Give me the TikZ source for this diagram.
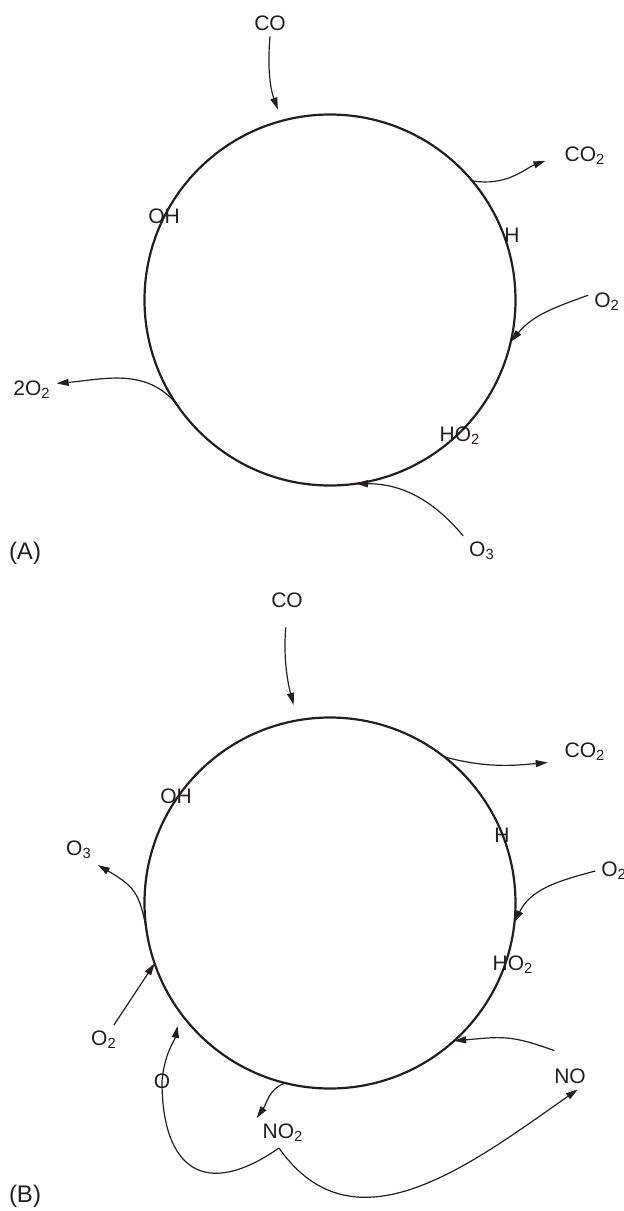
\documentclass[tikz,border=0pt]{standalone}
\usepackage{fontspec}
\setmainfont{Liberation Sans}
\usepackage{xcolor}
\usepackage{tikz}
\usetikzlibrary{arrows.meta}
\definecolor{CY_INK}{HTML}{231F20}
\tikzset{
  cyc/.style={
    circle, draw=CY_INK, line width=1.1pt,
    minimum size=185.5pt, inner sep=0pt, outer sep=0pt},
  spec/.style={
    inner sep=3pt, outer sep=0pt,
    text=CY_INK, font=\fontsize{10.5}{12}\selectfont},
  panel/.style={
    inner sep=3pt, outer sep=0pt,
    text=CY_INK, font=\fontsize{12}{14}\selectfont},
  arr/.style={-{Triangle[length=6pt,width=3.5pt]}, line width=0.6pt, color=CY_INK},
}
\newcommand{\sbs}[1]{\textsubscript{#1}}

\begin{document}
\begin{tikzpicture}[x=0.5pt, y=-0.5pt]

  \useasboundingbox (0,0) rectangle (624,1211);

  \node[cyc] (cycA) at (330,300) {};
  \node[spec] (ohA) at (164,216) {OH};
  \node[spec] (hA) at (512,235) {H};
  \node[spec] (ho2A) at (460,436) {HO\sbs{2}};
  \node[spec] (coA) at (270,23) {CO};
  \node[spec] (co2A) at (585,156) {CO\sbs{2}};
  \node[spec] (o2A) at (607,302) {O\sbs{2}};
  \node[spec] (o3A) at (482,551) {O\sbs{3}};
  \node[spec] (o22A) at (32,390) {2O\sbs{2}};
  \node[panel] (labA) at (25,553) {(A)};

  \draw[arr, shorten >=6pt] (coA.south) to[out=-95,in=110] (cycA.105);
  \draw[arr, shorten >=7pt] (cycA.40) to[out=-10,in=200] (co2A.west);
  \draw[arr] (o2A.160) to[out=200,in=50] (cycA.-13);
  \draw[arr] (o3A.north west) to[out=130,in=0] (cycA.-82);
  \draw[arr] (cycA.214) to[out=130,in=5] (o22A.15);

  \node[cyc] (cycB) at (330,903) {};
  \node[spec] (ohB) at (176,796) {OH};
  \node[spec] (hB) at (502,835) {H};
  \node[spec] (ho2B) at (513,965) {HO\sbs{2}};
  \node[spec] (coB) at (287,600) {CO};
  \node[spec] (co2B) at (585,752) {CO\sbs{2}};
  \node[spec] (o2rB) at (614,871) {O\sbs{2}};
  \node[spec] (noB) at (570,1076) {NO};
  \node[spec] (no2B) at (283,1133) {NO\sbs{2}};
  \node[spec] (oB) at (162,1081) {O};
  \node[spec] (o2lB) at (104,1040) {O\sbs{2}};
  \node[spec] (o3B) at (79,850) {O\sbs{3}};
  \node[panel] (labB) at (25,1196) {(B)};

  \draw[arr, shorten <=7pt, shorten >=8pt] (coB.south) to[out=-95,in=105] (cycB.100);
  \draw[arr, shorten >=5.5pt] (cycB.52) to[out=-15,in=185] (co2B.200);
  \draw[arr] (o2rB.west) to[out=195,in=64] (cycB.-6);
  \draw[arr] ([shift={(3pt,6pt)}]noB.north west) to[out=160,in=5,looseness=1.2] (cycB.-48);
  \draw[arr] (cycB.-104) to[out=200,in=55] (no2B.north west);
  \draw[arr, shorten >=7pt] (no2B.-105) to[out=-145,in=-90,looseness=1.7] (oB.center)
    to[out=85,in=-100] (cycB.216);
  \draw[arr] (no2B.-105) to[out=-55,in=215,looseness=1.1] (noB.-60);
  \draw[arr] (o2lB) -- (cycB.199);
  \draw[arr] (cycB.192) to[out=100,in=-30,looseness=1.3] (o3B.south east);

\end{tikzpicture}
\end{document}
